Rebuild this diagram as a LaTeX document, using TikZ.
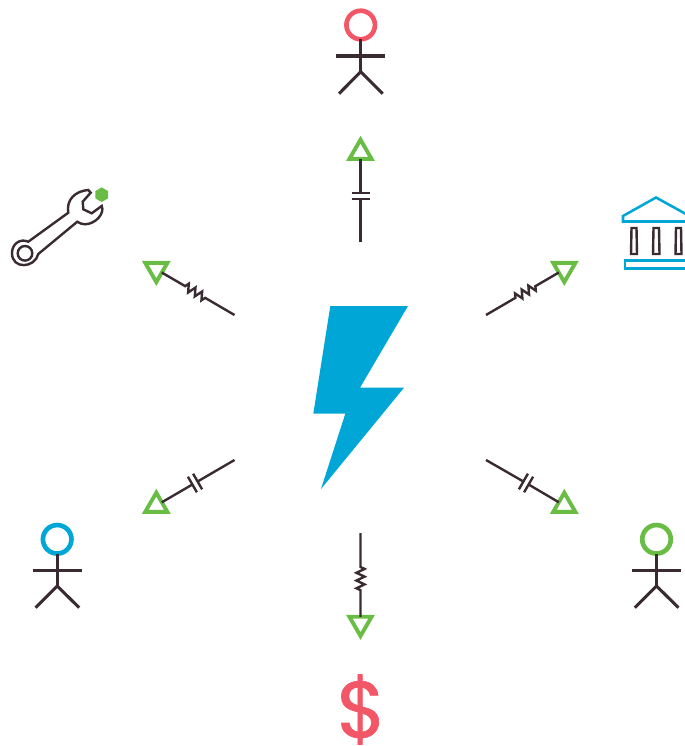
\documentclass[tikz,border=0pt]{standalone}
\usepackage{fontspec}
\usetikzlibrary{shapes.geometric,decorations.pathmorphing}
\newfontfamily\dollarfont[FakeBold=0.8]{Poppins}

\definecolor{inkdark}{HTML}{3A2A32}
\definecolor{boltblue}{HTML}{00A7D6}
\definecolor{markgreen}{HTML}{69BD45}
\definecolor{headred}{HTML}{F25767}

\tikzset{
  wire/.style={draw=inkdark,line width=1.8pt},
  limb/.style={draw=inkdark,line width=2.3pt},
  head/.style={circle,draw,line width=3.5pt,inner sep=0pt,outer sep=0pt,minimum size=21.4pt},
  tri/.style={regular polygon,regular polygon sides=3,draw=markgreen,line width=2.9pt,inner sep=0pt,outer sep=0pt,minimum size=19.2pt},
  tridown/.style={tri,shape border rotate=180},
  resistor/.style={wire,decorate,decoration={zigzag,segment length=5.8pt,amplitude=3pt,pre length=25.5pt,post length=19.5pt}},
}

\begin{document}
\begin{tikzpicture}[x=0.75pt,y=-0.75pt]

\useasboundingbox (0,0) rectangle (685,746);
\clip (0,0) rectangle (685,746);

% ---------------- BOLT ----------------

\fill[boltblue] (330.3,306)--(408,306)--(360,387.7)--(404,387.7)--(321,489)--(345.3,413.7)--(313.3,413.7)--cycle;

% ---------------- TOP PERSON ----------------

\node[head,draw=headred] (P1) at (360.7,25) {};
\coordinate (P1hip) at (360.7,71.7);
\coordinate (P1armL) at (336.2,56);
\coordinate (P1armR) at (385.2,56);
\coordinate (P1footL) at (339,93.7);
\coordinate (P1footR) at (382.7,93.7);
\draw[limb] (P1)--(P1hip);
\draw[limb] (P1armL)--(P1armR);
\draw[limb] (P1footL)--(P1hip)--(P1footR);

% ---------------- LEFT PERSON ----------------

\node[head,draw=boltblue] (P2) at (57.2,539.3) {};
\coordinate (P2hip) at (57.2,586);
\coordinate (P2armL) at (32.7,570.3);
\coordinate (P2armR) at (81.7,570.3);
\coordinate (P2footL) at (35.5,607.7);
\coordinate (P2footR) at (79.2,607.7);
\draw[limb] (P2)--(P2hip);
\draw[limb] (P2armL)--(P2armR);
\draw[limb] (P2footL)--(P2hip)--(P2footR);

% ---------------- RIGHT PERSON ----------------

\node[head,draw=markgreen] (P3) at (656.5,539.3) {};
\coordinate (P3hip) at (656.5,586);
\coordinate (P3armL) at (632,570.3);
\coordinate (P3armR) at (681,570.3);
\coordinate (P3footL) at (634.8,607.7);
\coordinate (P3footR) at (678.5,607.7);
\draw[limb] (P3)--(P3hip);
\draw[limb] (P3armL)--(P3armR);
\draw[limb] (P3footL)--(P3hip)--(P3footR);

% ---------------- TRIANGLES ----------------

\node[tri] (T1) at (360.5,152.5) {};
\node[tridown] (T2) at (564.3,269.3) {};
\node[tri] (T3) at (564.3,505.5) {};
\node[tridown] (T4) at (360.5,623.2) {};
\node[tri] (T5) at (156.3,505.5) {};
\node[tridown] (T6) at (156.3,269.3) {};

% ---------------- RESISTOR WIRES ----------------

\coordinate (S2) at (486,315);
\coordinate (S4) at (360.5,533);
\coordinate (S6) at (234.5,315);

\draw[resistor] (S2)--(T2);
\draw[resistor] (S4)--(T4);
\draw[resistor] (S6)--(T6);

% ---------------- CAPACITOR WIRES ----------------

\coordinate (S1) at (360.5,242);
\coordinate (C1a) at (360.5,199);
\coordinate (C1b) at (360.5,193);
\coordinate (C1aL) at (351.5,199);
\coordinate (C1aR) at (369.5,199);
\coordinate (C1bL) at (351.5,193);
\coordinate (C1bR) at (369.5,193);
\draw[wire] (S1)--(C1a);
\draw[wire] (C1b)--(T1);
\draw[wire] (C1aL)--(C1aR);
\draw[wire] (C1bL)--(C1bR);

\coordinate (S3) at (486,460);
\coordinate (C3a) at (523.4,481.5);
\coordinate (C3b) at (528.6,484.5);
\coordinate (C3aL) at (518.9,489.3);
\coordinate (C3aR) at (527.9,473.7);
\coordinate (C3bL) at (524.1,492.3);
\coordinate (C3bR) at (533.1,476.7);
\draw[wire] (S3)--(C3a);
\draw[wire] (C3b)--(T3);
\draw[wire] (C3aL)--(C3aR);
\draw[wire] (C3bL)--(C3bR);

\coordinate (S5) at (234.5,460);
\coordinate (C5a) at (197.6,481.5);
\coordinate (C5b) at (192.4,484.5);
\coordinate (C5aL) at (202.1,489.3);
\coordinate (C5aR) at (193.1,473.7);
\coordinate (C5bL) at (196.9,492.3);
\coordinate (C5bR) at (187.9,476.7);
\draw[wire] (S5)--(C5a);
\draw[wire] (C5b)--(T5);
\draw[wire] (C5aL)--(C5aR);
\draw[wire] (C5bL)--(C5bR);

% ---------------- WRENCH ----------------

\draw[wire] (28.3,241.7)--(68.3,212.7) .. controls (66,200) and (75,191) .. (88.3,190)
  --(90.7,192.7)--(82.7,201.7)--(83.3,209.3)--(91.7,213.3)--(101.7,206)
  .. controls (105,213) and (96,224) .. (85,224.3) .. controls (82,224.3) and (79,223) .. (77.3,221.7)
  --(38.3,254) .. controls (35,268) and (12,270) .. (12,253) .. controls (12,244) and (20,238) .. (28.3,241.7)--cycle;
\draw[wire] (25,253.3) circle (7.3);
\node[regular polygon,regular polygon sides=6,shape border rotate=30,fill=markgreen,inner sep=0pt,minimum size=11pt] (nut) at (101.7,194.7) {};

% ---------------- BANK ----------------

\draw[draw=boltblue,line width=1.9pt] (623,221.5)--(623,216)--(656,197.5)--(689.5,216)--(689.5,221.5)--cycle;
\draw[draw=boltblue,line width=1.9pt] (625,260.5) rectangle (690,268.3);
\draw[wire] (631.5,228)--(636.5,228)--(637,254)--(631,254)--cycle;
\draw[wire] (653.5,228)--(659,228)--(659.5,254)--(653,254)--cycle;
\draw[wire] (676,228)--(681,228)--(681.5,254)--(675.5,254)--cycle;

% ---------------- DOLLAR ----------------

\node[inner sep=0pt,text=headred,font=\dollarfont\fontsize{60pt}{60pt}\selectfont] (money) at (361.5,709.5) {\$};

\end{tikzpicture}
\end{document}
